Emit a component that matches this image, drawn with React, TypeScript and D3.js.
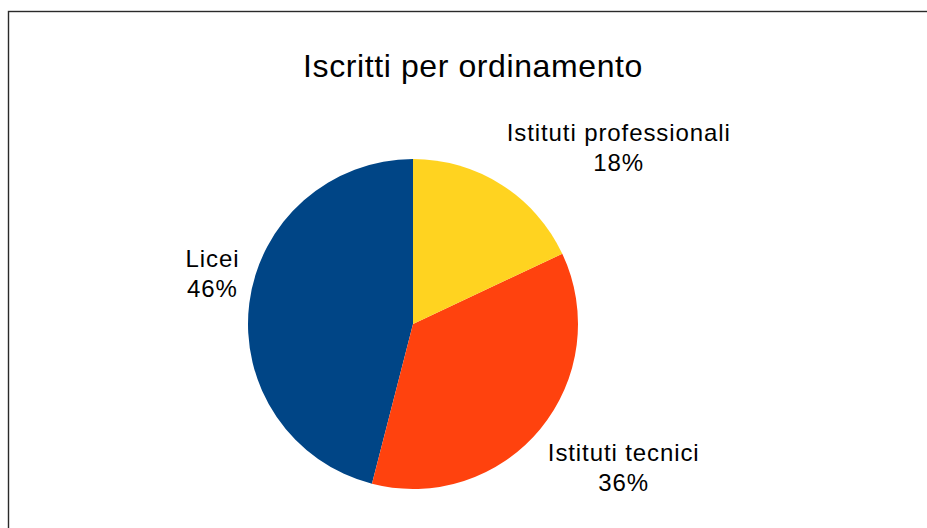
import * as React from "react";
import { pie, arc, PieArcDatum } from "d3";

// data
const categories = ["Licei", "Istituti tecnici", "Istituti professionali"];
const shares = [46, 36, 18];
const colors = ["#004586", "#ff420e", "#ffd320"];
const title = "Iscritti per ordinamento";

interface slice {
  name: string;
  value: number;
  color: string;
}

const W = 927;
const H = 528;
const cx = 413;
const cy = 324;
const radius = 165;
const labelFont = 24;
const labelSpacing = 0.9;
const lineGap = 30;
const fontFamily = "'Liberation Sans', Arial, sans-serif";

const measure = (() => {
  let ctx: CanvasRenderingContext2D | null = null;
  return (txt: string, size: number, spacing: number) => {
    if (!ctx) ctx = document.createElement("canvas").getContext("2d");
    if (!ctx) return txt.length * size * 0.5;
    ctx.font = `${size}px ${fontFamily}`;
    return ctx.measureText(txt).width + spacing * txt.length;
  };
})();

const App = () => {
  const data: slice[] = categories.map((c, i) => ({
    name: c,
    value: shares[i],
    color: colors[i],
  }));

  // LibreOffice draws counter-clockwise from 12 o'clock
  const layout = pie<slice>()
    .sort(null)
    .value(d => d.value)
    .startAngle(0)
    .endAngle(-2 * Math.PI);
  const arcs = layout(data);

  const slicePath = arc<PieArcDatum<slice>>()
    .innerRadius(0)
    .outerRadius(radius);
  const labelArc = arc<PieArcDatum<slice>>()
    .innerRadius(radius + 10)
    .outerRadius(radius + 10);

  return (
    <svg
      width={W}
      height={H}
      style={{ position: "absolute", left: 0, top: 0, background: "#fff" }}
    >
      <rect
        x={8.5}
        y={11.5}
        width={1200}
        height={1200}
        fill="none"
        stroke="#2a2a2a"
        strokeWidth={1.4}
      />
      <text
        x={473}
        y={77}
        textAnchor="middle"
        fontFamily={fontFamily}
        fontSize={32}
        letterSpacing={0.6}
        fill="#000"
      >
        {title}
      </text>
      <g transform={`translate(${cx},${cy})`}>
        {arcs.map(a => (
          <path key={a.data.name} d={slicePath(a) || ""} fill={a.data.color} />
        ))}
        {arcs.map(a => {
          const [lx, ly] = labelArc.centroid(a);
          const mid = (a.startAngle + a.endAngle) / 2;
          const lines = [a.data.name, `${a.data.value}%`];
          const blockW = Math.max(
            ...lines.map(l => measure(l, labelFont, labelSpacing))
          );
          const centerX = Math.sin(mid) >= 0 ? lx + blockW / 2 : lx - blockW / 2;
          const firstBase =
            Math.cos(mid) >= 0 ? ly - 5 - lineGap : ly + 25;
          return (
            <text
              key={a.data.name + "-lbl"}
              textAnchor="middle"
              fontFamily={fontFamily}
              fontSize={labelFont}
              letterSpacing={labelSpacing}
              fill="#000"
            >
              {lines.map((l, i) => (
                <tspan key={i} x={centerX} y={firstBase + i * lineGap}>
                  {l}
                </tspan>
              ))}
            </text>
          );
        })}
      </g>
    </svg>
  );
};

export default App;
